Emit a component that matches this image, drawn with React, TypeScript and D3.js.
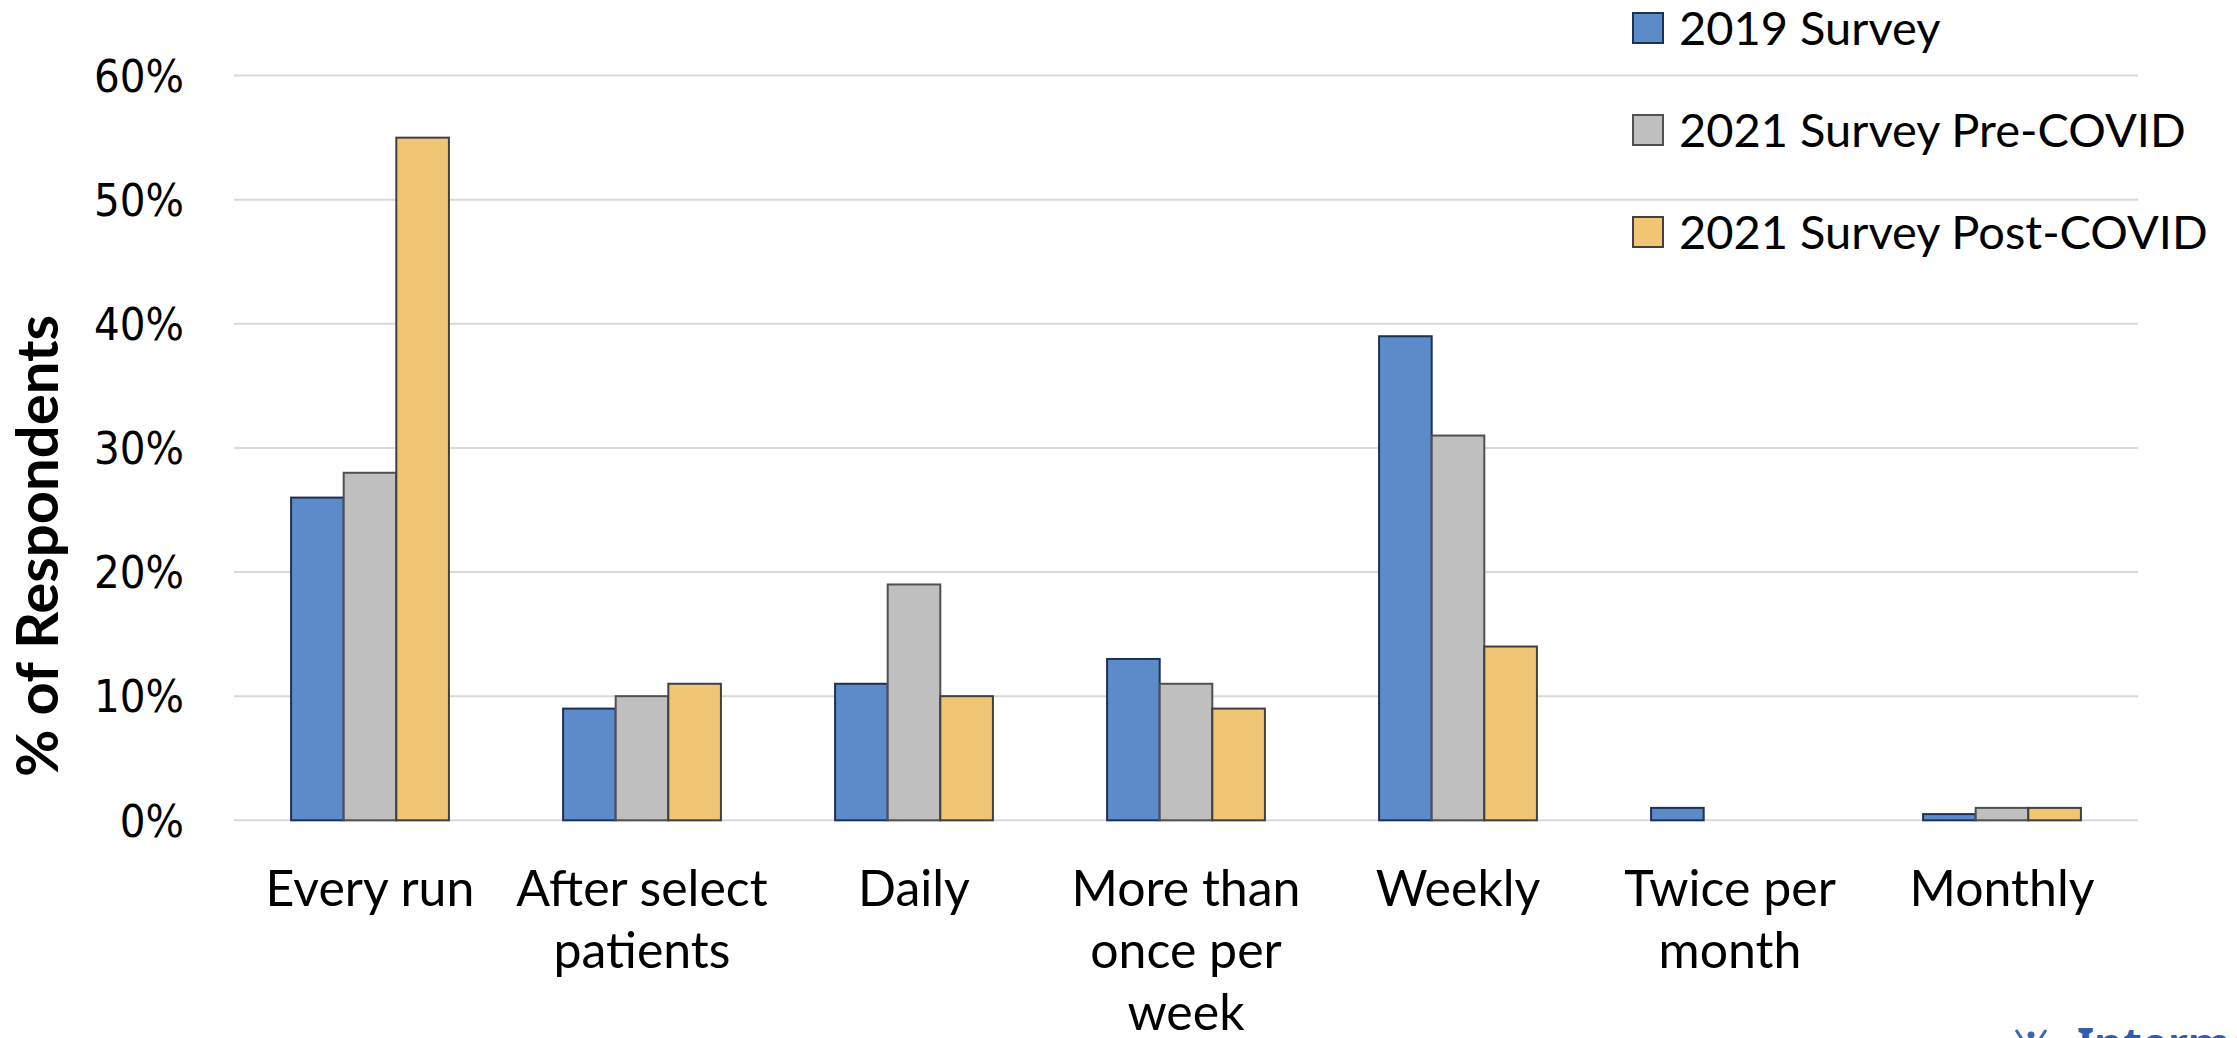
import React, { useEffect } from "react";
import * as d3 from "d3";

const categories = [
  "Every run",
  "After select patients",
  "Daily",
  "More than once per week",
  "Weekly",
  "Twice per month",
  "Monthly",
];
const categoryLines = [
  ["Every run"],
  ["After select", "patients"],
  ["Daily"],
  ["More than", "once per", "week"],
  ["Weekly"],
  ["Twice per", "month"],
  ["Monthly"],
];
const seriesNames = ["2019 Survey", "2021 Survey Pre-COVID", "2021 Survey Post-COVID"];
const survey2019 = [0.26, 0.09, 0.11, 0.13, 0.39, 0.01, 0.005];
const survey2021Pre = [0.28, 0.10, 0.19, 0.11, 0.31, 0, 0.01];
const survey2021Post = [0.55, 0.11, 0.10, 0.09, 0.14, 0, 0.01];
const yTicks = [0, 0.1, 0.2, 0.3, 0.4, 0.5, 0.6];

const fills = ["#5b8bc8", "#bfbfbf", "#f0c674"];
const strokes = ["#1f3152", "#505050", "#404040"];

const W = 2237;
const H = 1038;

export default function App() {
  useEffect(() => {
    document.body.style.margin = "0";
  }, []);

  const values = [survey2019, survey2021Pre, survey2021Post];
  const x = d3.scaleBand<string>().domain(categories).range([234, 2138]).paddingInner(0).paddingOuter(0);
  const xs = d3.scaleBand<string>().domain(seriesNames).range([0, x.bandwidth()]).paddingInner(0).paddingOuter(1.085);
  const y = d3.scaleLinear().domain([0, 0.6]).range([820.3, 75.6]);
  const fmt = d3.format(".0%");

  const catFont = "Lato, Carlito, 'Open Sans', sans-serif";
  const tickFont = "'DejaVu Sans Condensed', 'DejaVu Sans', Verdana, sans-serif";

  return (
    <svg width={W} height={H} style={{ position: "absolute", left: 0, top: 0, display: "block", background: "#fff" }}>
      <rect x={0} y={0} width={W} height={H} fill="#ffffff" />
      {/* gridlines */}
      {yTicks.map((t) => (
        <line key={"g" + t} x1={x.range()[0]} x2={x.range()[1]} y1={y(t)} y2={y(t)} stroke="#d9d9d9" strokeWidth={2} />
      ))}
      {/* y tick labels */}
      {yTicks.map((t) => (
        <text
          key={"t" + t}
          x={184}
          y={y(t)}
          dy="0.36em"
          textAnchor="end"
          fontFamily={tickFont}
          fontStretch="condensed"
          fontSize={45}
          fill="#000"
        >
          {fmt(t)}
        </text>
      ))}
      {/* y axis title */}
      <text
        transform={`translate(58,546) rotate(-90)`}
        textAnchor="middle"
        fontFamily={catFont}
        fontWeight={700}
        fontSize={58}
        fill="#000"
      >
        % of Respondents
      </text>
      {/* bars */}
      {categories.map((c, ci) => (
        <g key={c} transform={`translate(${x(c)},0)`}>
          {seriesNames.map((s, si) => {
            const v = values[si][ci];
            if (!v) return null;
            return (
              <rect
                key={s}
                x={xs(s)}
                y={y(v)}
                width={xs.bandwidth()}
                height={y(0) - y(v)}
                fill={fills[si]}
                stroke={strokes[si]}
                strokeWidth={2}
              />
            );
          })}
        </g>
      ))}
      {/* category labels */}
      {categories.map((c, ci) => (
        <text
          key={"c" + c}
          x={(x(c) as number) + x.bandwidth() / 2}
          y={906}
          textAnchor="middle"
          fontFamily={catFont}
          fontSize={50}
          fill="#000"
        >
          {categoryLines[ci].map((ln, li) => (
            <tspan key={li} x={(x(c) as number) + x.bandwidth() / 2} dy={li === 0 ? 0 : 62}>
              {ln}
            </tspan>
          ))}
        </text>
      ))}
      {/* legend */}
      {seriesNames.map((s, si) => (
        <g key={"l" + s} transform={`translate(1633,${28 + si * 102})`}>
          <rect x={0} y={-15} width={30} height={30} fill={fills[si]} stroke={strokes[si]} strokeWidth={2} />
          <text x={46} y={17} fontFamily={catFont} fontSize={47} fill="#000">
            {s}
          </text>
        </g>
      ))}
      {/* logo (cropped at bottom) */}
      <g>
        <line x1={2016} y1={1030} x2={2024} y2={1042} stroke="#3a66b5" strokeWidth={3} />
        <line x1={2046} y1={1030} x2={2038} y2={1042} stroke="#3a66b5" strokeWidth={3} />
        <circle cx={2031} cy={1035} r={3.5} fill="#3a66b5" />
        <text x={2077} y={1060} fontFamily="'Noto Sans', sans-serif" fontWeight={700} fontSize={44} fill="#2e5fae">
          Intermountain
        </text>
      </g>
    </svg>
  );
}
